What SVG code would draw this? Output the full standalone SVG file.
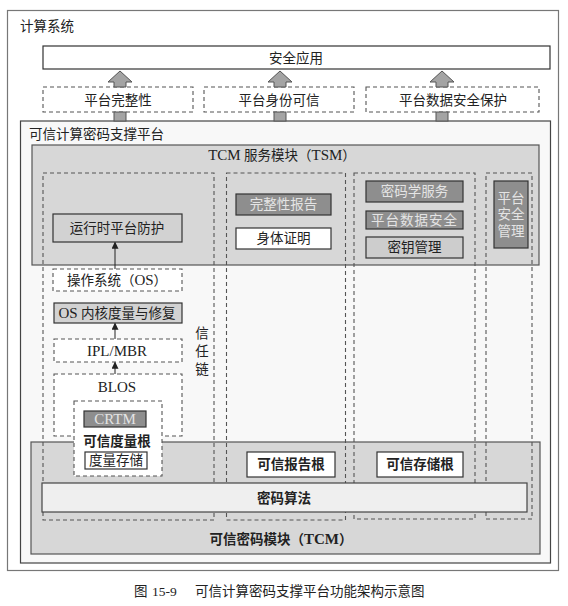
<svg xmlns="http://www.w3.org/2000/svg" width="568" height="606" viewBox="0 0 568 606">
<defs>
<marker id="ah" viewBox="0 0 8 8" refX="7" refY="4" markerWidth="7" markerHeight="7" markerUnits="userSpaceOnUse" orient="auto">
<path d="M0,0 L8,4 L0,8 Z" fill="#222"/>
</marker>
<path id="barrow" d="M0,0 L12,11 L6,11 L6,16 L-6,16 L-6,11 L-12,11 Z"/>
</defs>
<style>
.t{font-family:"Liberation Serif","Noto Sans CJK SC",serif;font-size:13.5px;fill:#222;text-anchor:middle;dominant-baseline:central}
.st{text-anchor:start}
.b{font-weight:bold}
.la{font-size:15px}
.lt{fill:#e4e4e4}
.dash{fill:none;stroke:#555;stroke-width:1.1;stroke-dasharray:4 3}
.dashw{fill:#fff;stroke:#555;stroke-width:1.1;stroke-dasharray:4 3}
.box{stroke:#333;stroke-width:1.2}
.dk{fill:#8e8e8e}
.wh{fill:#fff}
.mid{fill:#d2d2d2}
.ba{fill:#a4a4a4;stroke:#555;stroke-width:1}
.conn{stroke:#222;stroke-width:1;fill:none;marker-end:url(#ah)}
</style>
<rect width="568" height="606" fill="#fff"/>

<g id="computing-system">
<rect x="7.5" y="10.5" width="551" height="560" fill="none" stroke="#777" stroke-width="1.2"/>
<text class="t st" x="20" y="26">计算系统</text>
</g>

<g id="security-app">
<rect class="box wh" x="43" y="46" width="507" height="23"/>
<text class="t" x="296" y="58">安全应用</text>
</g>

<g id="platform-integrity">
<rect class="dash" x="43" y="87" width="150" height="25"/>
<text class="t" x="118" y="100">平台完整性</text>
</g>
<g id="platform-identity">
<rect class="dash" x="204" y="87" width="150" height="25"/>
<text class="t" x="279" y="100">平台身份可信</text>
</g>
<g id="platform-data">
<rect class="dash" x="366" y="87" width="173" height="25"/>
<text class="t" x="453" y="100">平台数据安全保护</text>
</g>

<g id="platform">
<rect x="20.5" y="121" width="530" height="442" fill="#f8f8f8" stroke="#444" stroke-width="1.2"/>
<text class="t st" x="29" y="134">可信计算密码支撑平台</text>
</g>

<g id="tsm">
<rect x="32" y="145" width="507" height="120" fill="#d7d7d7" stroke="#555" stroke-width="1.2"/>
<text class="t" x="282" y="155"><tspan class="la">TCM</tspan> 服务模块（<tspan class="la">TSM</tspan>）</text>
</g>

<g id="tcm">
<rect x="31" y="442" width="509" height="112" fill="#d7d7d7" stroke="#555" stroke-width="1.2"/>
<text class="t b" x="281" y="539">可信密码模块（<tspan class="la">TCM</tspan>）</text>
</g>

<g id="columns">
<rect class="dash" x="43" y="173" width="171" height="347"/>
<rect class="dash" x="226.5" y="173" width="119" height="347"/>
<rect class="dash" x="354" y="173" width="121" height="346"/>
<rect class="dash" x="486" y="173" width="46" height="346"/>
</g>

<g id="runtime-protect">
<rect class="box mid" x="53" y="214" width="129" height="28"/>
<text class="t" x="117" y="228">运行时平台防护</text>
</g>
<g id="os">
<rect class="dashw" x="53" y="269" width="129" height="22"/>
<text class="t" x="117" y="280">操作系统（<tspan class="la">OS</tspan>）</text>
</g>
<g id="os-kernel">
<rect class="box mid" x="54" y="303" width="128" height="20"/>
<text class="t" x="117" y="313"><tspan class="la">OS</tspan> 内核度量与修复</text>
</g>
<g id="ipl">
<rect class="dashw" x="54" y="339" width="128" height="23"/>
<text class="t la" x="117" y="350.5">IPL/MBR</text>
</g>
<g id="blos">
<rect class="dashw" x="54" y="374" width="128" height="62"/>
<text class="t la" x="117" y="387">BLOS</text>
</g>
<g id="rtm">
<rect class="dashw" x="74" y="401" width="88" height="75"/>
<rect class="box dk" x="84" y="411" width="62" height="16"/>
<text class="t lt la" x="115" y="419">CRTM</text>
<text class="t b" x="117" y="441">可信度量根</text>
<rect class="box wh" x="85" y="452" width="62" height="17"/>
<text class="t" x="116" y="460.5">度量存储</text>
</g>
<g id="trust-chain">
<text class="t" x="202" y="333">信</text>
<text class="t" x="202" y="351">任</text>
<text class="t" x="202" y="369">链</text>
</g>

<g id="integrity-report">
<rect class="box dk" x="236" y="194" width="95" height="21"/>
<text class="t lt" x="283.5" y="204.5">完整性报告</text>
</g>
<g id="attestation">
<rect class="box wh" x="236" y="228" width="95" height="21"/>
<text class="t" x="283.5" y="238.5">身体证明</text>
</g>

<g id="crypto-service">
<rect class="box dk" x="366" y="181" width="97" height="21"/>
<text class="t lt" x="414.5" y="191.5">密码学服务</text>
</g>
<g id="data-security">
<rect class="box dk" x="366" y="211" width="97" height="18"/>
<text class="t lt" x="414.5" y="220" letter-spacing="1">平台数据安全</text>
</g>
<g id="key-mgmt">
<rect class="box" fill="#cdcdcd" x="366" y="237" width="97" height="21"/>
<text class="t" x="414.5" y="247.5">密钥管理</text>
</g>
<g id="platform-mgmt">
<rect class="box dk" x="494" y="181" width="34" height="67"/>
<text class="t lt" x="511" y="198">平台</text>
<text class="t lt" x="511" y="214.5">安全</text>
<text class="t lt" x="511" y="231">管理</text>
</g>

<g id="rtr">
<rect class="box wh" x="247" y="452" width="88" height="25"/>
<text class="t b" x="291" y="464.5">可信报告根</text>
</g>
<g id="rts">
<rect class="box wh" x="377" y="452" width="86" height="25"/>
<text class="t b" x="420" y="464.5">可信存储根</text>
</g>
<g id="crypto-alg">
<rect x="42" y="483" width="485" height="29" fill="#efefef" stroke="#444" stroke-width="1.2"/>
<text class="t b" x="284" y="498">密码算法</text>
</g>

<g id="connectors">
<use href="#barrow" class="ba" x="120" y="71"/>
<use href="#barrow" class="ba" x="280" y="71"/>
<use href="#barrow" class="ba" x="442" y="71"/>
<rect class="ba" x="114" y="112" width="12" height="9"/>
<rect class="ba" x="274" y="112" width="12" height="9"/>
<rect class="ba" x="436" y="112" width="12" height="9"/>
<line class="conn" x1="115" y1="269" x2="115" y2="242.5"/>
<line class="conn" x1="115" y1="339" x2="115" y2="323.5"/>
<line class="conn" x1="115" y1="374" x2="115" y2="362.5"/>
</g>

<g id="caption">
<text class="t st" x="134" y="591" font-size="15">图</text>
<text class="t st" x="152" y="591" font-size="15">15-9</text>
<text class="t st" x="195" y="591" font-size="15">可信计算密码支撑平台功能架构示意图</text>
</g>
</svg>
